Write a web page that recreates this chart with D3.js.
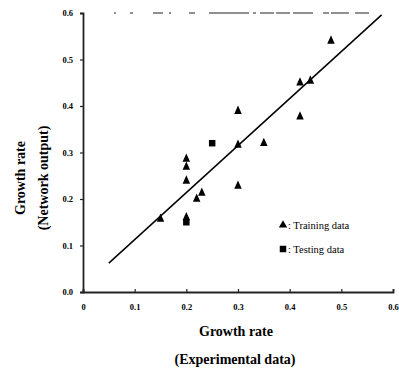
<!DOCTYPE html>
<html>
<head>
<meta charset="utf-8">
<script src="https://cdn.jsdelivr.net/npm/d3@7"></script>
<style>
  body { margin: 0; background: #fff; }
  svg { display: block; }
</style>
</head>
<body>
<svg width="399" height="373"></svg>
<script>
(function () {
  // data
  var trainX = [0.15, 0.2, 0.2, 0.2, 0.2, 0.22, 0.23, 0.3, 0.3, 0.3, 0.35, 0.42, 0.44, 0.42, 0.48];
  var trainY = [0.157, 0.286, 0.269, 0.239, 0.16, 0.2, 0.213, 0.316, 0.389, 0.228, 0.32, 0.45, 0.454, 0.377, 0.54];
  var testX = [0.2, 0.25];
  var testY = [0.15, 0.32];
  var fitX = [0.05, 0.578];
  var fitY = [0.062, 0.596];
  var xTicks = [0, 0.1, 0.2, 0.3, 0.4, 0.5, 0.6];
  var yTicks = [0, 0.1, 0.2, 0.3, 0.4, 0.5, 0.6];

  var svg = d3.select("svg");
  var x = d3.scaleLinear().domain([0, 0.6]).range([83, 393]);
  var y = d3.scaleLinear().domain([0, 0.6]).range([292, 13]);

  var serif = "'Liberation Serif', 'Times New Roman', serif";

  // faint broken top border (scan artefact in the original)
  svg.append("line")
    .attr("x1", x(0.06)).attr("x2", x(0.6))
    .attr("y1", y(0.6)).attr("y2", y(0.6))
    .attr("stroke", "#222").attr("stroke-width", 1)
    .attr("stroke-dasharray", "2,14,3,20,10,6,2,18,6,14,40,4,3,4,14");

  // axes
  var xAxis = d3.axisBottom(x).tickValues(xTicks).tickSize(-3).tickPadding(10)
    .tickFormat(function (d) { return d === 0 ? "0" : d3.format(".1f")(d); });
  var yAxis = d3.axisLeft(y).tickValues(yTicks).tickSize(3).tickPadding(7)
    .tickFormat(d3.format(".1f"));

  var gx = svg.append("g").attr("transform", "translate(0," + y(0) + ")").call(xAxis);
  var gy = svg.append("g").attr("transform", "translate(" + x(0) + ",0)").call(yAxis);

  [gx, gy].forEach(function (g) {
    g.select(".domain").attr("stroke", "#222").attr("stroke-width", 1.8);
    g.selectAll(".tick line").attr("stroke", "#222").attr("stroke-width", 1.2);
    g.selectAll(".tick text")
      .attr("font-family", serif).attr("font-weight", "bold")
      .attr("font-size", 8.5).attr("fill", "#000");
  });
  gx.selectAll(".tick text").attr("dy", "0.9em");

  // fitted line
  var line = d3.line().x(function (d) { return x(d[0]); }).y(function (d) { return y(d[1]); });
  svg.append("path")
    .datum(d3.zip(fitX, fitY))
    .attr("d", line)
    .attr("fill", "none").attr("stroke", "#000").attr("stroke-width", 1.5);

  var tri = d3.symbol().type(d3.symbolTriangle).size(30);
  var sq = d3.symbol().type(d3.symbolSquare).size(42);

  svg.append("g").selectAll("path")
    .data(d3.zip(trainX, trainY))
    .join("path")
    .attr("d", tri)
    .attr("transform", function (d) { return "translate(" + x(d[0]) + "," + y(d[1]) + ") scale(0.9,1.15)"; })
    .attr("fill", "#000");

  svg.append("g").selectAll("path")
    .data(d3.zip(testX, testY))
    .join("path")
    .attr("d", sq)
    .attr("transform", function (d) { return "translate(" + x(d[0]) + "," + y(d[1]) + ")"; })
    .attr("fill", "#000");

  // legend
  var legend = [
    { sym: tri, label: ": Training data", yy: 225 },
    { sym: sq, label: ": Testing data", yy: 249 }
  ];
  legend.forEach(function (l) {
    svg.append("path").attr("d", l.sym)
      .attr("transform", "translate(283," + l.yy + ")").attr("fill", "#000");
    svg.append("text").attr("x", 288).attr("y", l.yy + 3.5)
      .attr("font-family", serif).attr("font-size", 10.5).attr("fill", "#000")
      .text(l.label);
  });

  // axis titles
  svg.append("text").attr("x", 236).attr("y", 336)
    .attr("text-anchor", "middle").attr("font-family", serif)
    .attr("font-weight", "bold").attr("font-size", 14).text("Growth rate");
  svg.append("text").attr("x", 235).attr("y", 364)
    .attr("text-anchor", "middle").attr("font-family", serif)
    .attr("font-weight", "bold").attr("font-size", 14).text("(Experimental data)");

  svg.append("text").attr("transform", "translate(25,178) rotate(-90)")
    .attr("text-anchor", "middle").attr("font-family", serif)
    .attr("font-weight", "bold").attr("font-size", 14).text("Growth rate");
  svg.append("text").attr("transform", "translate(48,178) rotate(-90)")
    .attr("text-anchor", "middle").attr("font-family", serif)
    .attr("font-weight", "bold").attr("font-size", 14).text("(Network output)");
})();
</script>
</body>
</html>
